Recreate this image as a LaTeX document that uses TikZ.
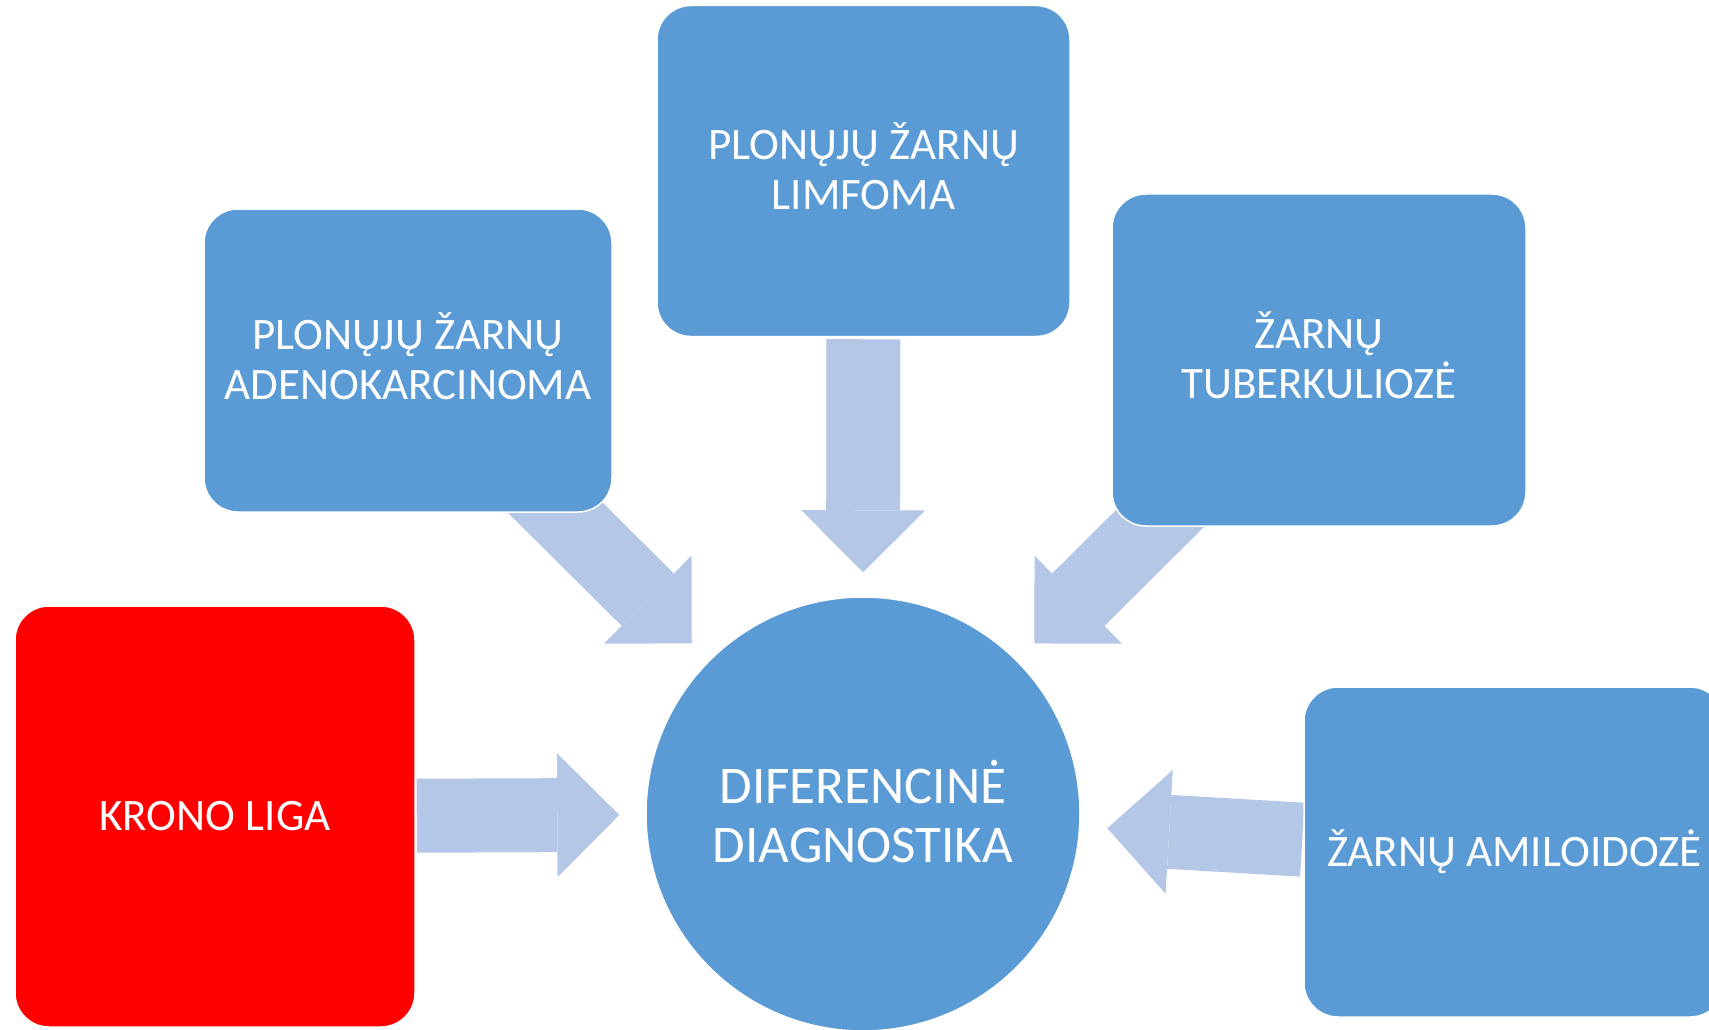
\documentclass[tikz,border=0pt]{standalone}
\usepackage{fontspec}
\setmainfont{Carlito}
\usepackage{tikz}
\usetikzlibrary{arrows.meta,backgrounds}

\definecolor{boxblue}{HTML}{5B9BD5}
\definecolor{flowblue}{HTML}{B4C7E7}
\definecolor{boxred}{HTML}{FF0000}

\begin{document}
\begin{tikzpicture}[
    x=1pt, y=-1pt,
    box/.style={rectangle, rounded corners=34pt, draw=white, line width=1.5pt, fill=boxblue, text=white, align=center, inner sep=0pt, font=\fontsize{45}{50}\selectfont},
    twoline/.style={text depth=9pt},
    hub/.style={circle, draw=white, line width=1.5pt, fill=boxblue, text=white, align=center, inner sep=0pt, minimum size=434pt, text depth=5pt, font=\fontsize{53}{59}\selectfont},
    flow/.style={draw=flowblue, line width=74pt, -{Triangle[length=62pt, width=124pt, line width=0pt]}}
]
\useasboundingbox (0,0) rectangle (1709,1030);

\node[hub] (diag) at (863,814) {DIFERENCINĖ\\DIAGNOSTIKA};

\node[box, twoline, minimum width=413pt, minimum height=331pt] (limfoma) at (863.5,171) {PLONŲJŲ ŽARNŲ\\LIMFOMA};
\node[box, twoline, minimum width=408pt, minimum height=303pt] (adeno) at (408,360.5) {PLONŲJŲ ŽARNŲ\\ADENOKARCINOMA};
\node[box, twoline, minimum width=414pt, minimum height=332pt] (tuberk) at (1319,360) {ŽARNŲ\\TUBERKULIOZĖ};
\node[box, fill=boxred, minimum width=400pt, minimum height=421pt] (krono) at (215,816.5) {KRONO LIGA};
\node[box, minimum width=420pt, minimum height=330pt] (amil) at (1514,852) {ŽARNŲ AMILOIDOZĖ};

\begin{scope}[on background layer]
\draw[flow, shorten <=2pt, shorten >=24pt] (limfoma) -- (diag);
\draw[flow, shorten <=-45pt, shorten >=24pt] (adeno) -- (diag);
\draw[flow, shorten <=-45pt, shorten >=24pt] (tuberk) -- (diag);
\draw[flow, shorten <=1pt, shorten >=26pt] (krono) -- (diag);
\draw[flow, shorten <=1pt, shorten >=27pt] (amil) -- (diag);
\end{scope}

\end{tikzpicture}
\end{document}
